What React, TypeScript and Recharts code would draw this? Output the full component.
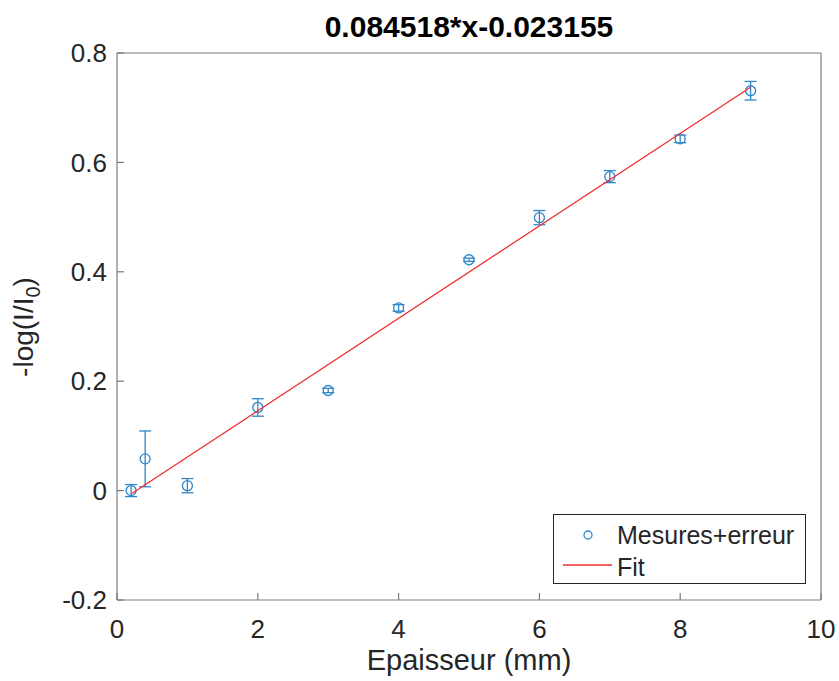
import React from 'react';
import { ComposedChart, Scatter, XAxis, YAxis, ErrorBar, Legend } from 'recharts';

// mesures (épaisseur en mm, -log(I/I0), erreur)
const epaisseur = [0.2, 0.4, 1, 2, 3, 4, 5, 6, 7, 8, 9];
const mesures = [0.0, 0.058, 0.009, 0.152, 0.183, 0.334, 0.422, 0.499, 0.574, 0.643, 0.731];
const erreurs = [0.011, 0.051, 0.013, 0.016, 0.004, 0.006, 0.003, 0.013, 0.011, 0.007, 0.017];

// droite de fit : extrémités
const fitX = [0.2, 9];
const fitY = [-0.0062, 0.7375];

const xTicks = [0, 2, 4, 6, 8, 10];
const yTicks = [-0.2, 0, 0.2, 0.4, 0.6, 0.8];

const BLUE = '#2f86c8';
const RED = '#ee2e2e';
const AXIS = '#7a7a7a';
const TEXT = '#262626';
const FONT = '"Liberation Sans", Arial, Helvetica, sans-serif';

const points = epaisseur.map((x, i) => ({ x, y: mesures[i], err: erreurs[i] }));
const fit = fitX.map((x, i) => ({ x, y: fitY[i] }));

const Ring = (props: any) => {
    const { cx, cy } = props;
    if (cx == null || cy == null) return <g />;
    return <circle cx={cx} cy={cy} r={5} fill="none" stroke={BLUE} strokeWidth={1.3} />;
};

const LegendBox = () => (
    <svg width={253} height={70} style={{ display: 'block', fontFamily: FONT }}>
        <rect x={0.5} y={0.5} width={252} height={69} fill="#fff" stroke={TEXT} strokeWidth={1} />
        <circle cx={35} cy={21} r={4} fill="none" stroke={BLUE} strokeWidth={1.3} />
        <text x={64} y={30} fontSize={25} fill={TEXT}>Mesures+erreur</text>
        <line x1={10} x2={59} y1={51} y2={51} stroke={RED} strokeWidth={1.3} />
        <text x={64} y={62} fontSize={25} fill={TEXT}>Fit</text>
    </svg>
);

export default function App() {
    return (
        <div style={{ position: 'absolute', left: 0, top: 0, background: '#fff' }}>
            <ComposedChart
                width={839}
                height={681}
                margin={{ top: 53, right: 18, bottom: 0, left: 0 }}
                style={{ fontFamily: FONT }}
            >
                <XAxis
                    xAxisId="b"
                    type="number"
                    dataKey="x"
                    domain={[0, 10]}
                    ticks={xTicks}
                    interval={0}
                    allowDataOverflow
                    height={81}
                    stroke={AXIS}
                    strokeWidth={1.2}
                    tickSize={-7}
                    tickMargin={27}
                    tick={{ fill: TEXT, fontSize: 26 }}
                />
                <XAxis
                    xAxisId="t"
                    orientation="top"
                    mirror
                    type="number"
                    domain={[0, 10]}
                    ticks={xTicks}
                    interval={0}
                    allowDataOverflow
                    stroke={AXIS}
                    strokeWidth={1.2}
                    tickSize={7}
                    tick={false}
                />
                <YAxis
                    yAxisId="l"
                    type="number"
                    dataKey="y"
                    domain={[-0.2, 0.8]}
                    ticks={yTicks}
                    interval={0}
                    allowDataOverflow
                    width={117}
                    stroke={AXIS}
                    strokeWidth={1.2}
                    tickSize={-7}
                    tickMargin={17}
                    tick={{ fill: TEXT, fontSize: 26 }}
                />
                <YAxis
                    yAxisId="r"
                    orientation="right"
                    mirror
                    type="number"
                    domain={[-0.2, 0.8]}
                    ticks={yTicks}
                    interval={0}
                    allowDataOverflow
                    stroke={AXIS}
                    strokeWidth={1.2}
                    tickSize={7}
                    tick={false}
                />

                <Scatter
                    name="Mesures+erreur"
                    data={points}
                    xAxisId="b"
                    yAxisId="l"
                    shape={<Ring />}
                    isAnimationActive={false}
                >
                    <ErrorBar dataKey="err" direction="y" width={6} stroke={BLUE} strokeWidth={1.3} />
                </Scatter>
                <Scatter
                    name="Fit"
                    data={fit}
                    xAxisId="b"
                    yAxisId="l"
                    line={{ stroke: RED, strokeWidth: 1.3 }}
                    shape={() => <g />}
                    isAnimationActive={false}
                />

                <Legend
                    layout="vertical"
                    align="center"
                    verticalAlign="middle"
                    wrapperStyle={{ position: 'absolute', left: 553, top: 514, width: 253, height: 70 }}
                    content={() => <LegendBox />}
                />

                <text x={469} y={37} textAnchor="middle" fontSize={30} fontWeight="bold" fill="#000">
                    0.084518*x-0.023155
                </text>
                <text x={469} y={670} textAnchor="middle" fontSize={29} fill={TEXT}>
                    Epaisseur (mm)
                </text>
                <text x={33} y={327} textAnchor="middle" fontSize={28} fill={TEXT} transform="rotate(-90, 33, 327)">
                    -log(I/I<tspan fontSize={20} dy={7}>0</tspan>
                    <tspan dy={-7}>)</tspan>
                </text>
            </ComposedChart>
        </div>
    );
}
